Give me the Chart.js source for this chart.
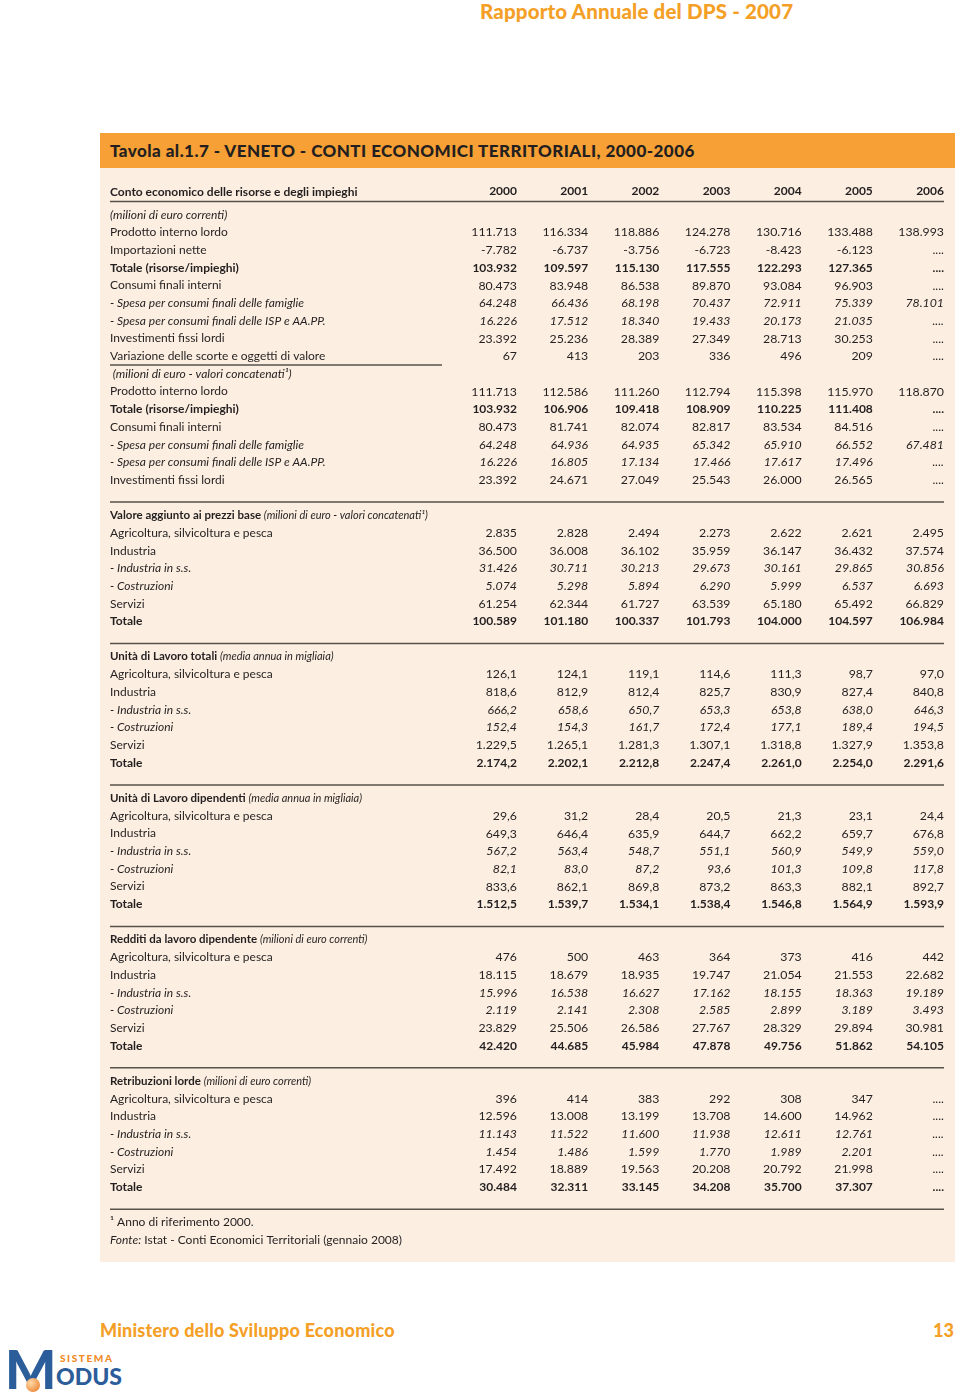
<!DOCTYPE html>
<html lang="it">
<head>
<meta charset="utf-8">
<title>Tavola al.1.7 - Veneto - Conti economici territoriali</title>
<script src="https://cdn.jsdelivr.net/npm/chart.js@4.4.1/dist/chart.umd.min.js"></script>
<style>
  html, body { margin: 0; padding: 0; background: #fff; }
  body { width: 960px; height: 1396px; position: relative; overflow: hidden; font-family: Lato, "Noto Sans", sans-serif; color: #231f20; }
  #runhead { position: absolute; left: 480px; top: -2px; font-size: 20.5px; font-weight: 900; letter-spacing: 0.15px; color: #f4a027; line-height: 26px; }
  #panel { position: absolute; left: 100px; top: 133px; width: 855px; height: 1129px; background: #fcefe1; }
  #titlebar { position: absolute; left: 100px; top: 133px; width: 855px; height: 35px; background: #f6a035; }
  #titlebar span { position: absolute; left: 10px; top: 0; line-height: 36px; font-size: 17px; font-weight: 900; letter-spacing: 0.45px; color: #231f20; }
  #wrap { position: absolute; left: 100px; top: 170px; width: 860px; height: 1092px; }
  #footer { position: absolute; left: 100px; top: 1319px; font-size: 18px; font-weight: 900; letter-spacing: 0.2px; color: #f4a027; }
  #pagenum { position: absolute; right: 6px; top: 1319px; font-size: 18px; font-weight: 900; color: #f4a027; }
  #logo { position: absolute; left: 5px; top: 1348px; width: 115px; height: 46px; }
  #logo .m { position: absolute; left: 0; top: -7px; font-size: 54px; font-weight: 900; color: #2c5d9b; line-height: 56px; }
  #logo .dot { position: absolute; left: 21px; top: 30px; width: 14px; height: 14px; border-radius: 50%; background: radial-gradient(circle at 35% 35%, #ffd9a8, #e8741c); }
  #logo .s { position: absolute; left: 55px; top: 4px; font-size: 10px; font-weight: 900; color: #f08a24; letter-spacing: 1.6px; }
  #logo .o { position: absolute; left: 51px; top: 15px; font-size: 23px; font-weight: 900; color: #2c5d9b; line-height: 27px; }
</style>
</head>
<body>
<div id="runhead">Rapporto Annuale del DPS - 2007</div>
<div id="panel"></div>
<div id="titlebar"><span>Tavola al.1.7 - VENETO - CONTI ECONOMICI TERRITORIALI, 2000-2006</span></div>
<div id="wrap"><canvas id="tavola" width="860" height="1092"></canvas></div>
<div id="footer">Ministero dello Sviluppo Economico</div>
<div id="pagenum">13</div>
<div id="logo"><span class="m">M</span><span class="dot"></span><span class="s">SISTEMA</span><span class="o">ODUS</span></div>

<script>
// column headings
const years = ['2000', '2001', '2002', '2003', '2004', '2005', '2006'];

// conto economico delle risorse e degli impieghi (null = dato non disponibile "....")
const labelsCorrenti = ['Prodotto interno lordo', 'Importazioni nette', 'Totale (risorse/impieghi)', 'Consumi finali interni',
  '- Spesa per consumi finali delle famiglie', '- Spesa per consumi finali delle ISP e AA.PP.',
  'Investimenti fissi lordi', 'Variazione delle scorte e oggetti di valore'];
const valCorrenti = [
  [111713, 116334, 118886, 124278, 130716, 133488, 138993],
  [-7782, -6737, -3756, -6723, -8423, -6123, null],
  [103932, 109597, 115130, 117555, 122293, 127365, null],
  [80473, 83948, 86538, 89870, 93084, 96903, null],
  [64248, 66436, 68198, 70437, 72911, 75339, 78101],
  [16226, 17512, 18340, 19433, 20173, 21035, null],
  [23392, 25236, 28389, 27349, 28713, 30253, null],
  [67, 413, 203, 336, 496, 209, null]
];

const labelsConcat = ['Prodotto interno lordo', 'Totale (risorse/impieghi)', 'Consumi finali interni',
  '- Spesa per consumi finali delle famiglie', '- Spesa per consumi finali delle ISP e AA.PP.', 'Investimenti fissi lordi'];
const valConcat = [
  [111713, 112586, 111260, 112794, 115398, 115970, 118870],
  [103932, 106906, 109418, 108909, 110225, 111408, null],
  [80473, 81741, 82074, 82817, 83534, 84516, null],
  [64248, 64936, 64935, 65342, 65910, 66552, 67481],
  [16226, 16805, 17134, 17466, 17617, 17496, null],
  [23392, 24671, 27049, 25543, 26000, 26565, null]
];

// sector blocks
const sectorLabels = ['Agricoltura, silvicoltura e pesca', 'Industria', '- Industria in s.s.', '- Costruzioni', 'Servizi', 'Totale'];

const valoreAggiunto = [
  [2835, 2828, 2494, 2273, 2622, 2621, 2495],
  [36500, 36008, 36102, 35959, 36147, 36432, 37574],
  [31426, 30711, 30213, 29673, 30161, 29865, 30856],
  [5074, 5298, 5894, 6290, 5999, 6537, 6693],
  [61254, 62344, 61727, 63539, 65180, 65492, 66829],
  [100589, 101180, 100337, 101793, 104000, 104597, 106984]
];
const ulaTotali = [
  [126.1, 124.1, 119.1, 114.6, 111.3, 98.7, 97.0],
  [818.6, 812.9, 812.4, 825.7, 830.9, 827.4, 840.8],
  [666.2, 658.6, 650.7, 653.3, 653.8, 638.0, 646.3],
  [152.4, 154.3, 161.7, 172.4, 177.1, 189.4, 194.5],
  [1229.5, 1265.1, 1281.3, 1307.1, 1318.8, 1327.9, 1353.8],
  [2174.2, 2202.1, 2212.8, 2247.4, 2261.0, 2254.0, 2291.6]
];
const ulaDipendenti = [
  [29.6, 31.2, 28.4, 20.5, 21.3, 23.1, 24.4],
  [649.3, 646.4, 635.9, 644.7, 662.2, 659.7, 676.8],
  [567.2, 563.4, 548.7, 551.1, 560.9, 549.9, 559.0],
  [82.1, 83.0, 87.2, 93.6, 101.3, 109.8, 117.8],
  [833.6, 862.1, 869.8, 873.2, 863.3, 882.1, 892.7],
  [1512.5, 1539.7, 1534.1, 1538.4, 1546.8, 1564.9, 1593.9]
];
const redditi = [
  [476, 500, 463, 364, 373, 416, 442],
  [18115, 18679, 18935, 19747, 21054, 21553, 22682],
  [15996, 16538, 16627, 17162, 18155, 18363, 19189],
  [2119, 2141, 2308, 2585, 2899, 3189, 3493],
  [23829, 25506, 26586, 27767, 28329, 29894, 30981],
  [42420, 44685, 45984, 47878, 49756, 51862, 54105]
];
const retribuzioni = [
  [396, 414, 383, 292, 308, 347, null],
  [12596, 13008, 13199, 13708, 14600, 14962, null],
  [11143, 11522, 11600, 11938, 12611, 12761, null],
  [1454, 1486, 1599, 1770, 1989, 2201, null],
  [17492, 18889, 19563, 20208, 20792, 21998, null],
  [30484, 32311, 33145, 34208, 35700, 37307, null]
];

const tableTitle = 'Conto economico delle risorse e degli impieghi';
const sections = [
  { head: ['Valore aggiunto ai prezzi base', '(milioni di euro - valori concatenati\u00b9)'], values: valoreAggiunto, dec: 0 },
  { head: ['Unità di Lavoro totali', '(media annua in migliaia)'], values: ulaTotali, dec: 1 },
  { head: ['Unità di Lavoro dipendenti', '(media annua in migliaia)'], values: ulaDipendenti, dec: 1 },
  { head: ['Redditi da lavoro dipendente', '(milioni di euro correnti)'], values: redditi, dec: 0 },
  { head: ['Retribuzioni lorde', '(milioni di euro correnti)'], values: retribuzioni, dec: 0 }
];

// build the row list for the category axis
const rows = [];
function addBlock(labels, values, dec) {
  labels.forEach((l, k) => rows.push({ kind: 'data', label: l, values: values[k], dec: dec }));
}
rows.push({ kind: 'note', label: '(milioni di euro correnti)' });
addBlock(labelsCorrenti, valCorrenti, 0);
rows.push({ kind: 'note', label: ' (milioni di euro - valori concatenati\u00b9)', rule: 'short' });
addBlock(labelsConcat, valConcat, 0);
sections.forEach(s => {
  rows.push({ kind: 'blank', label: '' });
  rows.push({ kind: 'head', label: s.head[0], sub: s.head[1], rule: 'full' });
  addBlock(sectorLabels, s.values, s.dec);
});
rows.push({ kind: 'blank', label: '' });
rows.push({ kind: 'foot', label: '\u00b9 Anno di riferimento 2000.', rule: 'full' });
rows.push({ kind: 'source', label: 'Fonte:', sub: ' Istat - Conti Economici Territoriali (gennaio 2008)' });

// italian number format: 111.713 / 1.229,5
function fmt(v, dec) {
  if (v === null) return '....';
  const neg = v < 0;
  const parts = Math.abs(v).toFixed(dec).split('.');
  const int = parts[0].replace(/\B(?=(\d{3})+(?!\d))/g, '.');
  return (neg ? '-' : '') + int + (parts[1] ? ',' + parts[1] : '');
}

const FAM = 'Lato, "Noto Sans", sans-serif';
const INK = '#231f20';
const RULE = '#57524d';
const font = (style, size) => style + ' ' + size + 'px ' + FAM;

function styleOf(label) {
  if (label.startsWith('Totale')) return 'bold';
  if (label.startsWith('- ')) return 'italic';
  return 'normal';
}

const tablePlugin = {
  id: 'tablePlugin',
  afterDraw(chart) {
    const ctx = chart.ctx;
    const xs = chart.scales.x, ys = chart.scales.y;
    const p = ys.getPixelForValue(1) - ys.getPixelForValue(0);
    const x0 = 10;
    const xEnd = xs.getPixelForValue(years.length - 1);
    const rule = (yy, a, b) => {
      ctx.beginPath(); ctx.moveTo(a, yy); ctx.lineTo(b, yy); ctx.stroke();
    };
    ctx.save();
    ctx.fillStyle = INK;
    ctx.strokeStyle = RULE;
    ctx.lineWidth = 1.5;
    ctx.textBaseline = 'middle';

    ctx.textAlign = 'left';
    ctx.font = font('bold', 12);
    ctx.fillText(tableTitle, x0, ys.getPixelForValue(0) - 1.3 * p);
    rule(ys.getPixelForValue(0) - 0.75 * p, x0, xEnd);

    rows.forEach((r, i) => {
      const py = ys.getPixelForValue(i);
      if (r.rule === 'full') rule(py - 0.75 * p, x0, xEnd);
      if (r.rule === 'short') rule(py - 0.5 * p, x0, 342);
      ctx.textAlign = 'left';
      if (r.kind === 'note') {
        ctx.font = font('italic', 12);
        ctx.fillText(r.label, x0, py);
      } else if (r.kind === 'head') {
        ctx.font = font('bold', 11.5);
        ctx.fillText(r.label, x0, py);
        const w = ctx.measureText(r.label + ' ').width;
        ctx.font = font('italic', 11);
        ctx.fillText(r.sub, x0 + w, py);
      } else if (r.kind === 'foot') {
        ctx.font = font('normal', 12);
        ctx.fillText(r.label, x0, py);
      } else if (r.kind === 'source') {
        ctx.font = font('italic', 12);
        ctx.fillText(r.label, x0, py);
        const w = ctx.measureText(r.label).width;
        ctx.font = font('normal', 12);
        ctx.fillText(r.sub, x0 + w, py);
      } else if (r.kind === 'data') {
        const st = styleOf(r.label);
        ctx.font = font(st, 12);
        ctx.fillText(r.label, x0, py);
        ctx.textAlign = 'right';
        ctx.font = font(st, st === 'bold' ? 12 : 12.3);
        r.values.forEach((v, j) => {
          ctx.fillText(fmt(v, r.dec), xs.getPixelForValue(j), py);
        });
      }
    });
    ctx.restore();
  }
};

new Chart(document.getElementById('tavola'), {
  type: 'bar',
  data: { labels: years, datasets: [] },
  options: {
    responsive: false,
    animation: false,
    layout: { padding: { left: 417, right: 16, top: 0, bottom: 13 } },
    plugins: { legend: { display: false }, tooltip: { enabled: false } },
    scales: {
      x: {
        type: 'category',
        labels: years,
        position: 'top',
        offset: false,
        grid: { display: false, drawTicks: false },
        border: { display: false },
        ticks: { align: 'end', padding: 8, autoSkip: false, maxRotation: 0, color: INK,
          font: { family: FAM, weight: 'bold', size: 12 } },
        afterFit(scale) { scale.height = 36; }
      },
      y: {
        type: 'category',
        labels: rows.map(r => r.label),
        offset: true,
        display: false
      }
    }
  },
  plugins: [tablePlugin]
});
</script>
</body>
</html>
